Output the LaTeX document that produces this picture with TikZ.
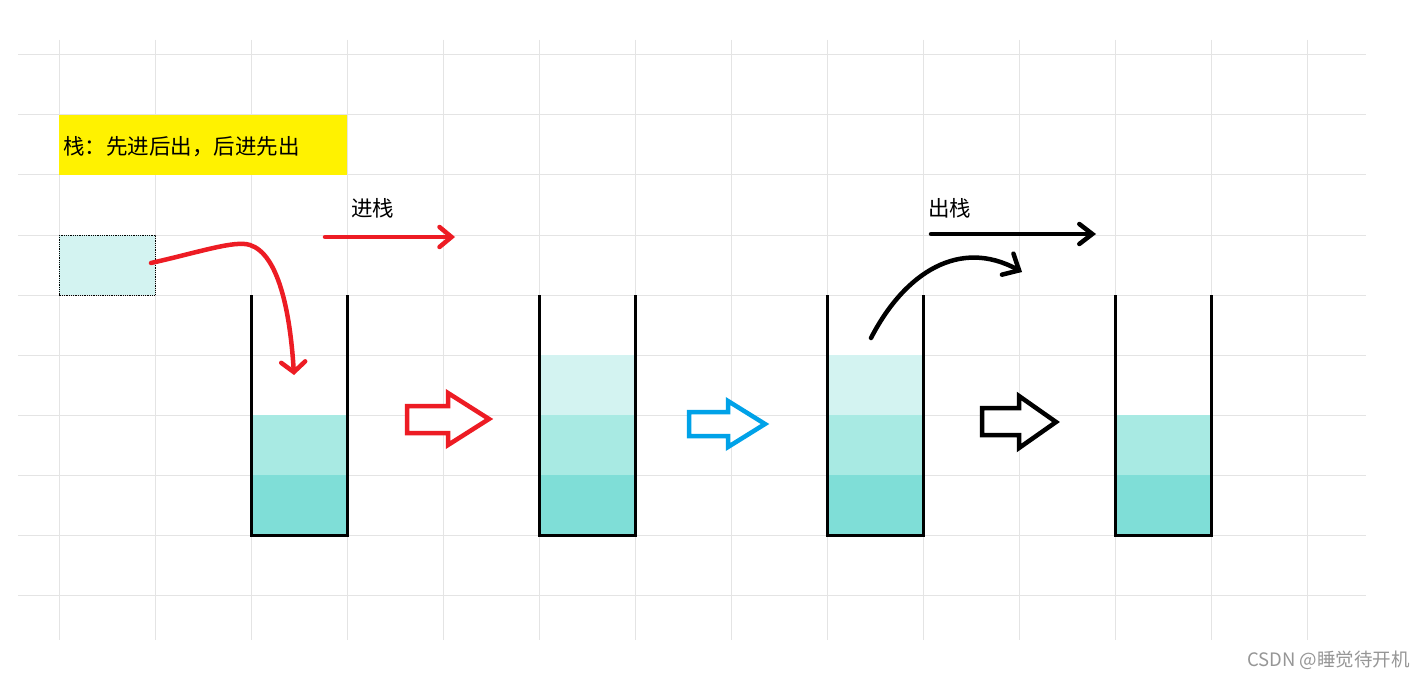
\documentclass[tikz,border=0pt]{standalone}
\usepackage{fontspec}
\newfontfamily\cjk{Noto Sans CJK SC}
\usetikzlibrary{arrows.meta}
\definecolor{gridc}{RGB}{228,228,228}
\definecolor{cA}{RGB}{211,243,241}
\definecolor{cB}{RGB}{168,234,227}
\definecolor{cC}{RGB}{127,222,215}
\definecolor{redc}{RGB}{237,28,36}
\definecolor{bluec}{RGB}{0,162,232}
\definecolor{wmark}{RGB}{150,150,150}
\tikzset{
  gridline/.style={gridc, line width=1pt},
  wall/.style={black, line width=3pt, line join=miter},
  blockarrow/.style={line width=4.5pt, line join=miter, fill=white},
  hand/.style={line width=4.5pt, line cap=round},
  lbl/.style={font=\cjk\fontsize{21.5}{24}\selectfont, inner sep=0pt, anchor=west},
}
\begin{document}
\begin{tikzpicture}[x=1pt,y=-1pt]
\useasboundingbox (0,0) rectangle (1426,679);
\fill[white] (0,0) rectangle (1426,679);
% grid
\foreach \y in {55,115,...,595} \draw[gridline] (18,\y) -- (1366,\y);
\foreach \x in {59,155,...,1307} \draw[gridline] (\x,40) -- (\x,640);
% title box
\fill[yellow] (59,115) rectangle (347,175);
\node[lbl] (title) at (63,147) {栈：先进后出，后进先出};
% element box
\fill[cA] (59,235) rectangle (155,295);
\draw[black, line width=0.8pt, densely dotted] (59,235) rectangle (155,295);
\coordinate (elem) at (151,263);
% stack 1
\fill[cC] (251,475) rectangle (347,535);
\fill[cB] (251,415) rectangle (347,475);
\draw[wall] (251,295) -- (251,535) -- (347,535) -- (347,295);
% stack 2
\fill[cC] (539,475) rectangle (635,535);
\fill[cB] (539,415) rectangle (635,475);
\fill[cA] (539,355) rectangle (635,415);
\draw[wall] (539,295) -- (539,535) -- (635,535) -- (635,295);
% stack 3
\fill[cC] (827,475) rectangle (923,535);
\fill[cB] (827,415) rectangle (923,475);
\fill[cA] (827,355) rectangle (923,415);
\draw[wall] (827,295) -- (827,535) -- (923,535) -- (923,295);
% stack 4
\fill[cC] (1115,475) rectangle (1211,535);
\fill[cB] (1115,415) rectangle (1211,475);
\draw[wall] (1115,295) -- (1115,535) -- (1211,535) -- (1211,295);
% block arrows
\draw[blockarrow, draw=redc] (407,406) -- (448,406) -- (448,393) -- (489,419) -- (448,445) -- (448,433) -- (407,433) -- cycle;
\draw[blockarrow, draw=bluec] (689,412) -- (728,412) -- (728,401) -- (765,424) -- (728,447) -- (728,436) -- (689,436) -- cycle;
\draw[blockarrow, draw=black] (982,408) -- (1019,408) -- (1019,396) -- (1056,422) -- (1019,448) -- (1019,435) -- (982,435) -- cycle;
% push curve
\coordinate (pushend) at (294,375);
\draw[hand, redc, -{Straight Barb[length=10pt,width=24pt,line cap=round]}] (elem) .. controls (200,252) and (235,240) .. (250,245) .. controls (278,254) and (290,310) .. (pushend);
% labels
\node[lbl] (push) at (351,208) {进栈};
\node[lbl] (pop) at (928,208) {出栈};
\coordinate (pushA) at (325,237);
\coordinate (pushB) at (455,237);
\draw[hand, redc, -{Straight Barb[length=12pt,width=20pt,line cap=round]}] (pushA) -- (pushB);
\coordinate (popA) at (931,234);
\coordinate (popB) at (1096,234);
\draw[hand, black, -{Straight Barb[length=13pt,width=20pt,line cap=round]}] (popA) -- (popB);
% pop curve
\coordinate (popS) at (871,338);
\coordinate (popE) at (1022,272);
\draw[hand, black, -{Straight Barb[length=13pt,width=24pt,line cap=round]}] (popS) .. controls (905,272) and (960,238) .. (popE);
% watermark
\node[font=\cjk\fontsize{18.5}{20}\selectfont, text=wmark, anchor=east, inner sep=0pt] (wm) at (1410,660) {CSDN @睡觉待开机};
\end{tikzpicture}
\end{document}
